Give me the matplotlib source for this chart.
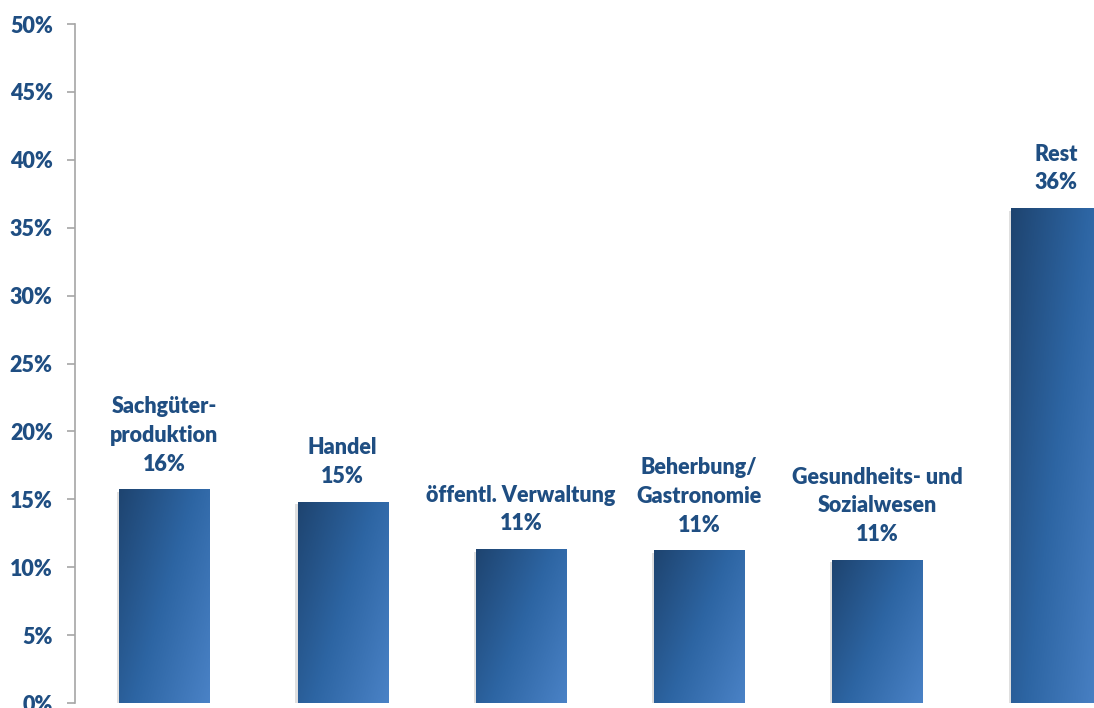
import numpy as np
import matplotlib.pyplot as plt
from matplotlib.colors import LinearSegmentedColormap
from matplotlib.patches import Rectangle

# Daten
kategorien = ["Sachgüter-\nproduktion", "Handel", "öffentl. Verwaltung",
              "Beherbung/\nGastronomie", "Gesundheits- und\nSozialwesen", "Rest"]
anteile = [15.7, 14.8, 11.3, 11.2, 10.5, 36.4]
anteil_labels = ["16%", "15%", "11%", "11%", "11%", "36%"]
y_ticks = [0, 5, 10, 15, 20, 25, 30, 35, 40, 45, 50]

blau = "#1F4E82"
plt.rcParams['font.family'] = ['Lato', 'DejaVu Sans']

fig = plt.figure(figsize=(10.94, 7.08), dpi=100)
ax = fig.add_axes([0.0686, 0.00706, 0.978, 0.959])

cmap = LinearSegmentedColormap.from_list("verlauf", ["#1E4470", "#2D65A3", "#4A82C6"])
gx, gy = np.meshgrid(np.linspace(0, 1, 60), np.linspace(0, 1, 200))
verlauf = 0.65 * gx + 0.45 * (1 - gy)  # oben links dunkel, unten rechts hell

x = np.arange(len(kategorien))
breite = 0.505
balken = ax.bar(x, anteile, width=breite, color="none", edgecolor="none", zorder=3)

for b in balken:
    x0, w, h = b.get_x(), b.get_width(), b.get_height()
    # leichter Schatten
    ax.add_patch(Rectangle((x0 - 0.012, -0.3), w + 0.012, h + 0.15,
                           facecolor="#808080", alpha=0.25, edgecolor="none", zorder=2))
    ax.imshow(verlauf, extent=[x0, x0 + w, 0, h], origin="lower", aspect="auto",
              cmap=cmap, vmin=0, vmax=1.1, clip_path=b, zorder=3)

for xi, wert, kat, lab in zip(x, anteile, kategorien, anteil_labels):
    ax.annotate(kat + "\n" + lab, (xi, wert), xytext=(0, 11), textcoords="offset points",
                ha="center", va="bottom", multialignment="center", linespacing=1.45,
                fontsize=15.5, fontweight="heavy", color=blau)

ax.set_xlim(-0.5, 5.5)
ax.set_ylim(0, 50)
ax.set_yticks(y_ticks)
ax.set_yticklabels([f"{t}%" for t in y_ticks])
ax.set_xticks([])
ax.tick_params(axis="y", direction="out", length=6, color="#A6A6A6", width=1.2,
               labelsize=15.5, labelcolor=blau, pad=10)
for lbl in ax.get_yticklabels():
    lbl.set_fontweight("heavy")

for s in ["top", "right", "bottom"]:
    ax.spines[s].set_visible(False)
ax.spines["left"].set_color("#A6A6A6")
ax.spines["left"].set_linewidth(1.2)

fig.savefig("out.png", dpi=100)
